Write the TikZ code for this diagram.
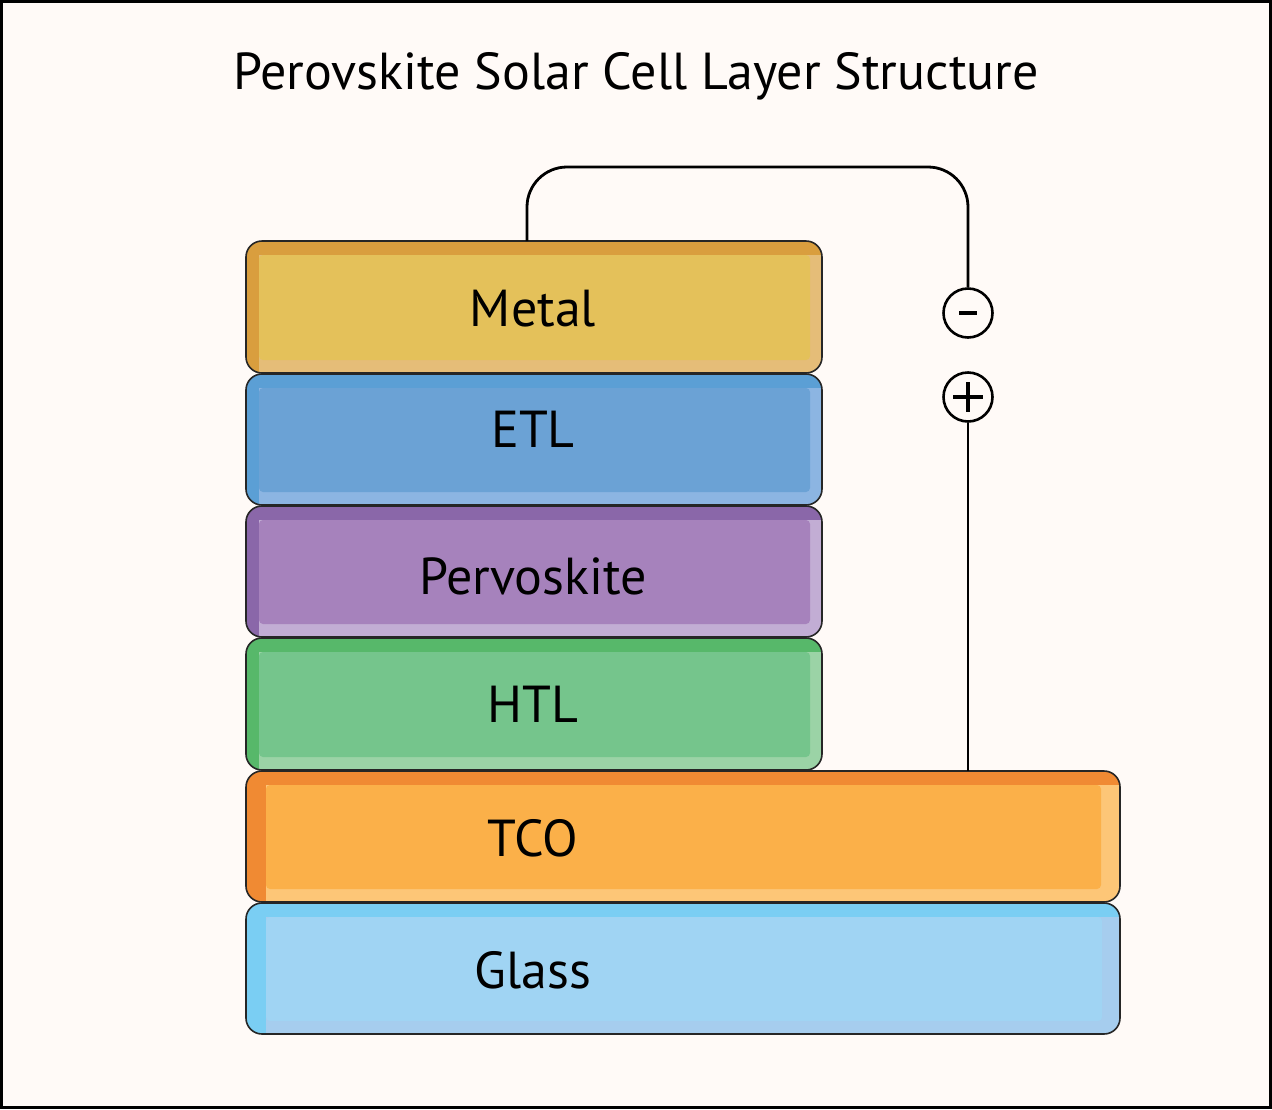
\documentclass[tikz,border=0pt]{standalone}
\usepackage{fontspec}
\setmainfont{PT Sans}
\definecolor{bg}{HTML}{FFFAF7}
\definecolor{metD}{HTML}{D99E3E}\definecolor{metM}{HTML}{E4C15A}\definecolor{metL}{HTML}{E5BD78}
\definecolor{etlD}{HTML}{5B9FD5}\definecolor{etlM}{HTML}{6BA2D5}\definecolor{etlL}{HTML}{8CB5E2}
\definecolor{perD}{HTML}{8A67A9}\definecolor{perM}{HTML}{A682BC}\definecolor{perL}{HTML}{C2ADD4}
\definecolor{htlD}{HTML}{57B86A}\definecolor{htlM}{HTML}{75C58C}\definecolor{htlL}{HTML}{9BD3A6}
\definecolor{tcoD}{HTML}{F08A33}\definecolor{tcoM}{HTML}{FBB049}\definecolor{tcoL}{HTML}{FDC677}
\definecolor{glaD}{HTML}{7ACEF3}\definecolor{glaM}{HTML}{A0D4F3}\definecolor{glaL}{HTML}{A6CDEE}
\tikzset{
  outline/.style={draw=black!85, line width=1.6pt},
  wire/.style={draw=black, line width=2.8pt},
  pole/.style={circle, draw=black, line width=2.6pt, minimum size=49pt, inner sep=0pt, fill=bg},
  lbl/.style={font=\fontsize{52}{60}\selectfont, text=black, anchor=center},
  ttl/.style={font=\fontsize{52}{60}\selectfont, text=black, anchor=center}
}
% #1 right x, #2 top y, #3 bottom y, #4 left band, #5 right band, #6 dark, #7 main, #8 light
\newcommand\pslayer[8]{%
  \begin{scope}
    \path[clip, rounded corners=16pt] (246,#2) rectangle (#1,#3);
    \fill[#8] (246,#2) rectangle (#1,#3);
    \fill[#6] (246,#2) rectangle (#1,#2+14);
    \fill[#6] (246,#2) rectangle (246+#4,#3);
  \end{scope}
  \fill[#7, rounded corners=4pt] (246+#4,#2+14) rectangle (#1-#5,#3-13);
  \draw[outline, rounded corners=16pt] (246,#2) rectangle (#1,#3);
}
\begin{document}
\begin{tikzpicture}[x=1pt, y=-1pt]
\useasboundingbox (0,0) rectangle (1272,1109);
\fill[bg] (0,0) rectangle (1272,1109);
\draw[line width=2.6pt] (1.5,1.5) rectangle (1270.5,1107.5);
\node[ttl] (title) at (636,76) {Perovskite Solar Cell Layer Structure};

\pslayer{1120}{903}{1034}{20}{18}{glaD}{glaM}{glaL}
\pslayer{1120}{771}{902}{20}{19}{tcoD}{tcoM}{tcoL}
\pslayer{822}{638}{770}{13}{12}{htlD}{htlM}{htlL}
\pslayer{822}{506}{637}{13}{12}{perD}{perM}{perL}
\pslayer{822}{374}{505}{13}{12}{etlD}{etlM}{etlL}
\pslayer{822}{241}{373}{13}{12}{metD}{metM}{metL}

\node[lbl] (metal) at (533,309) {Metal};
\node[lbl] (etl) at (533,429) {ETL};
\node[lbl] (pero) at (533,576) {Pervoskite};
\node[lbl] (htl) at (533,704) {HTL};
\node[lbl] (tco) at (533,838) {TCO};
\node[lbl] (glass) at (533,970) {Glass};

\coordinate (metaltop) at (527,241);
\coordinate (tcotop) at (968,771);
\node[pole] (minus) at (968,313) {};
\node[pole] (plus) at (968,397) {};
\draw[line width=3.4pt] (minus.center) ++(-9,0) -- ++(18,0);
\draw[line width=3.4pt] (plus.center) ++(-15,0) -- ++(30,0);
\draw[line width=3.4pt] (plus.center) ++(0,-15) -- ++(0,30);
\draw[wire, rounded corners=40pt] (metaltop) |- (968,167) -- (minus.north);
\draw[wire] (plus.south) -- (tcotop);
\end{tikzpicture}
\end{document}
